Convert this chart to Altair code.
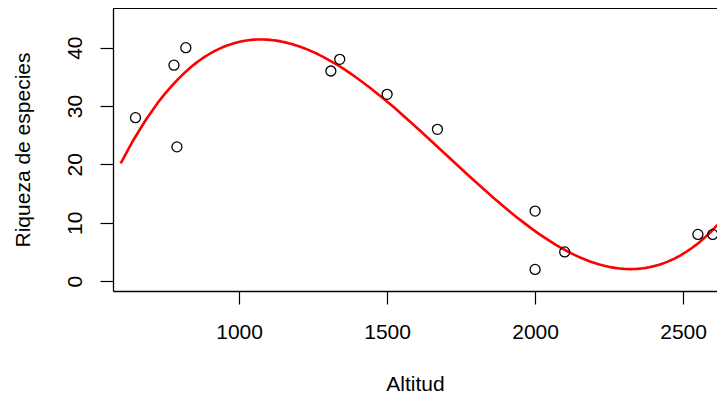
import altair as alt
import pandas as pd

altitud = [650, 780, 790, 820, 1310, 1340, 1500, 1670, 2000, 2000, 2100, 2550, 2600]
riqueza = [28, 37, 23, 40, 36, 38, 32, 26, 12, 2, 5, 8, 8]
x_ticks = [1000, 1500, 2000, 2500]
y_ticks = [0, 10, 20, 30, 40]

df = pd.DataFrame({"Altitud": altitud, "Riqueza": riqueza})

W, H = 604, 283
FONT = "Liberation Sans"

xs = alt.Scale(domain=[574, 2614.5], nice=False, zero=False)
ys = alt.Scale(domain=[-1.7, 46.8], nice=False, zero=False)

base = alt.Chart(df)

points = base.mark_point(shape="circle", filled=False, color="black", size=100, strokeWidth=1.3, opacity=1).encode(
    x=alt.X("Altitud:Q", scale=xs, title="Altitud",
            axis=alt.Axis(values=x_ticks, format="d", grid=False, tickSize=13, tickColor="black",
                          domainColor="black", domainWidth=1.3, tickWidth=1.2,
                          labelFontSize=21, labelFont=FONT, labelColor="black", labelPadding=17,
                          titleFontSize=21, titleFont=FONT, titleFontWeight="normal", titleColor="black",
                          titlePadding=31)),
    y=alt.Y("Riqueza:Q", scale=ys, title="Riqueza de especies",
            axis=alt.Axis(values=y_ticks, format="d", grid=False, tickSize=13, tickColor="black",
                          domainColor="black", domainWidth=1.3, tickWidth=1.2,
                          labelFontSize=21, labelFont=FONT, labelColor="black",
                          labelAngle=270, labelAlign="center", labelBaseline="alphabetic", labelPadding=19,
                          titleFontSize=21, titleFont=FONT, titleFontWeight="normal", titleColor="black",
                          titlePadding=31)),
)

curve = base.transform_regression("Altitud", "Riqueza", method="poly", order=3, extent=[600, 2700]).mark_line(
    color="#FF0000", strokeWidth=2.6, clip=True
).encode(x=alt.X("Altitud:Q", scale=xs), y=alt.Y("Riqueza:Q", scale=ys))

top = alt.Chart(df).mark_rule(color="black", strokeWidth=1.3).encode(
    x=alt.value(0), x2=alt.value(W), y=alt.value(0)
)

chart = alt.layer(curve, points, top).properties(
    width=W, height=H,
    autosize=alt.AutoSizeParams(type="none"),
    padding={"left": 105, "top": 0, "right": 0, "bottom": 106},
).configure_view(stroke=None)

chart.save("out.html", embed_options={"renderer": "svg", "actions": False})
